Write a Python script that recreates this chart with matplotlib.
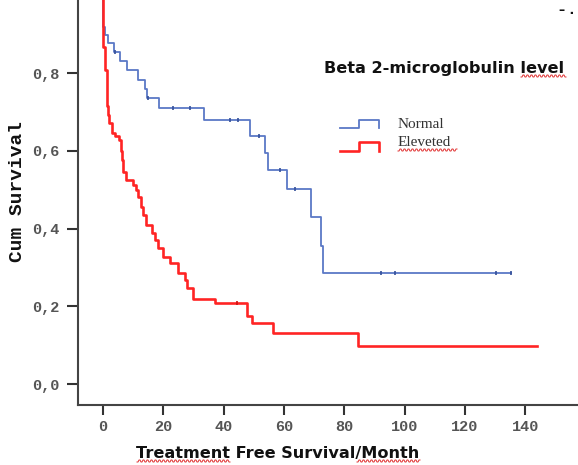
import numpy as np
import matplotlib
matplotlib.use('Agg')
import matplotlib.pyplot as plt

# Kaplan-Meier steps: time of drop (months) and survival after it
normal_t = [0, 0.5, 1.8, 3.7, 5.6, 7.9, 11.5, 13.9, 14.5, 18.6, 33.6, 48.8, 53.7, 54.8,
            60.9, 68.9, 72.2, 72.9]
normal_s = [0.919, 0.898, 0.877, 0.855, 0.831, 0.808, 0.782, 0.759, 0.735, 0.710, 0.678,
            0.637, 0.595, 0.551, 0.502, 0.429, 0.355, 0.285]
normal_end = 135.2
normal_cens_t = [4.0, 15.0, 23.1, 28.9, 42.1, 44.9, 51.7, 58.8, 63.7, 92.2, 96.8, 130.3, 135.2]

elev_t = [0, 0.6, 1.2, 1.5, 2.1, 2.9, 4.1, 5.2, 5.9, 6.2, 6.5, 7.6, 9.8, 10.8, 11.6, 12.6,
          13.4, 14.2, 16.3, 17.2, 18.2, 19.8, 22.3, 25.0, 27.2, 28.0, 29.8, 37.1, 47.7,
          49.3, 56.3, 84.4]
elev_s = [0.868, 0.808, 0.716, 0.692, 0.671, 0.645, 0.637, 0.628, 0.600, 0.577, 0.546,
          0.525, 0.512, 0.499, 0.482, 0.456, 0.435, 0.409, 0.388, 0.371, 0.349, 0.328,
          0.312, 0.286, 0.268, 0.246, 0.219, 0.208, 0.175, 0.158, 0.130, 0.098]
elev_end = 144.0
elev_cens_t = [44.3]

xticks = [0, 20, 40, 60, 80, 100, 120, 140]
yticks = [0.0, 0.2, 0.4, 0.6, 0.8]
ytick_labels = ['0,0', '0,2', '0,4', '0,6', '0,8']

BLUE = '#5b78c6'
RED = '#ff2424'


def km_xy(t, s, end):
    x = [0] + list(t) + [end]
    y = [1.0] + list(s) + [s[-1]]
    return x, y


def surv_at(t, s, times):
    out = []
    for c in times:
        val = 1.0
        for ti, si in zip(t, s):
            if ti <= c:
                val = si
        out.append(val)
    return out


def squiggle(fig, x0, x1, y):
    # red spell-check underline, given in image pixels
    W, H = 578, 465
    xs = np.arange(x0, x1 + 0.1, 1.0)
    ys = y + 1.0 * np.where(np.arange(len(xs)) % 4 < 2, 1, -1)
    fig.add_artist(plt.Line2D(xs / W, 1 - ys / H, color='#e03030', lw=0.7,
                              transform=fig.transFigure))


fig = plt.figure(figsize=(5.78, 4.65), dpi=100)
ax = fig.add_axes([78 / 578, 60 / 465, 500 / 578, 405 / 465])

x, y = km_xy(normal_t, normal_s, normal_end)
ax.step(x, y, where='post', color=BLUE, lw=1.3)
ax.plot(normal_cens_t, surv_at(normal_t, normal_s, normal_cens_t), ls='none',
        marker='|', ms=3, mew=1.2, color='#34509a')

x, y = km_xy(elev_t, elev_s, elev_end)
ax.step(x, y, where='post', color=RED, lw=1.9)
ax.plot(elev_cens_t, surv_at(elev_t, elev_s, elev_cens_t), ls='none',
        marker='|', ms=3, mew=1.2, color='#d01010')

ax.set_xlim(-8.3, 157.5)
ax.set_ylim(-0.054, 0.988)

for side in ['top', 'right']:
    ax.spines[side].set_visible(False)
for side in ['left', 'bottom']:
    ax.spines[side].set_color('#444444')
    ax.spines[side].set_linewidth(1.5)

ax.set_xticks(xticks)
ax.set_xticklabels([str(v) for v in xticks], family='Liberation Mono',
                   fontweight='bold', fontsize=11, color='#555555')
ax.set_yticks(yticks)
ax.set_yticklabels(ytick_labels, family='Liberation Mono', fontweight='bold',
                   fontsize=11, color='#555555')
ax.tick_params(axis='y', length=8, width=1.5, color='#333333', pad=5)
ax.tick_params(axis='x', length=7, width=1.5, color='#333333', pad=4)

ax.set_ylabel('Cum Survival', family='Liberation Mono', fontweight='bold',
              fontsize=14, color='#111111')
ax.yaxis.set_label_coords(-0.104, 0.528)
ax.set_xlabel('Treatment Free Survival/Month', family='DejaVu Sans',
              fontweight='bold', fontsize=11.6, color='#111111', va='center')
ax.xaxis.set_label_coords(0.4, -0.12)

# title and legend inside the plot area
fig.text(444 / 578, 1 - 68 / 465, 'Beta 2-microglobulin level', family='DejaVu Sans',
         fontweight='bold', fontsize=11.6, ha='center', va='center', color='#111111')

legend_items = [('Normal', BLUE, 1.3, 128.3, 120, 124), ('Eleveted', RED, 1.9, 151.5, 142, 142)]
for label, col, lw, ylo, yhi, ytxt in legend_items:
    xs = np.array([340, 359.3, 359.3, 378.6, 378.6])
    ys = np.array([ylo, ylo, yhi, yhi, ylo - 0.5])
    fig.add_artist(plt.Line2D(xs / 578, 1 - ys / 465, color=col, lw=lw,
                              transform=fig.transFigure))
    fig.text(398 / 578, 1 - ytxt / 465, label, family='Liberation Serif', fontsize=11,
             ha='left', va='center', color='#333333')

squiggle(fig, 521, 566, 76)
squiggle(fig, 398, 457, 150)
squiggle(fig, 137, 230, 461)
squiggle(fig, 357, 420, 461)

fig.text(567 / 578, 1 - 10 / 465, '\u2013 .', fontsize=9, fontweight='bold',
         ha='center', va='center', color='#111111')

fig.savefig('out.png', dpi=100)
